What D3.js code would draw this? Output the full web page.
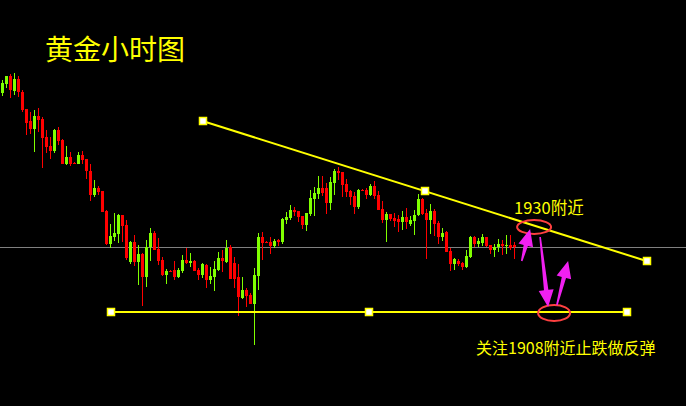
<!DOCTYPE html>
<html><head><meta charset="utf-8">
<script src="https://cdn.jsdelivr.net/npm/d3@7/dist/d3.min.js"></script>
<style>html,body{margin:0;padding:0;background:#000;overflow:hidden}</style>
</head><body>
<svg id="c" width="686" height="406"></svg>
<script>
// Hourly gold candles (USD)
const opens = [1962.75,1965,1967,1963.25,1966.25,1963,1958.75,1955.75,1953.75,1957,1956.25,1951.75,1949.5,1948.25,1953.5,1951,1945,1946.75,1945.25,1945,1947.25,1946.25,1943.25,1937.25,1939,1938.25,1933.25,1925,1926.75,1927.5,1932.25,1929.75,1920.5,1925.5,1920.5,1922.5,1916.75,1924.25,1927.75,1923.75,1921,1917.25,1918.25,1918.5,1916.75,1918.25,1921,1920.25,1920.75,1918.5,1917.25,1919.75,1916,1916.75,1918.5,1921.5,1920.5,1924.25,1920.25,1916.75,1911.5,1913.5,1912.25,1910,1917,1926.75,1925.5,1925.5,1924.5,1926,1925.5,1931,1931.5,1933.5,1933.25,1932,1929.75,1932.5,1936.25,1937.5,1939,1939,1935.25,1940.25,1943.25,1943,1940,1938.25,1937,1934.25,1938.5,1938.5,1937.25,1939.5,1937.25,1933.75,1931,1932.5,1931.5,1931.25,1930.5,1931.75,1930,1930.75,1932.25,1936.25,1932.75,1931,1933.25,1930.25,1926.75,1928,1923.25,1920,1920.75,1920.25,1919.25,1921.75,1926.75,1925,1925.25,1926.75,1924.75,1923.5,1924.25,1925,1924.75,1924.75,1924.75];
const highs = [1966,1967,1967.5,1967.75,1967,1963.5,1958.75,1958,1958.5,1959,1956.75,1953.5,1951.75,1953.75,1954.25,1951.25,1949.5,1948,1945.5,1948,1948.25,1946.25,1945,1941,1939.5,1938.25,1933.5,1930,1932.75,1932.5,1932.25,1931,1925.75,1927.25,1924.75,1922.75,1926,1929,1928.25,1926.5,1921.75,1918.75,1918.5,1920.75,1919,1922.25,1924,1922.75,1921,1919,1920.25,1920,1919.25,1920.75,1923,1923.5,1926,1924.75,1921.75,1920,1916.75,1914,1912.75,1919,1927.75,1928,1925.75,1926.75,1926.25,1926.25,1931.5,1933,1934.75,1934.25,1933.25,1932,1932.75,1938.5,1939.25,1942,1942,1940.25,1941.75,1943.75,1944.25,1943,1941.25,1938.5,1938,1938.75,1938.75,1939,1940,1940.75,1938.25,1935.75,1933,1932.5,1932.75,1932.25,1933.25,1934,1932,1933.5,1937.5,1936.5,1933.75,1935,1933.75,1930.75,1929,1928.25,1924,1921.5,1921.25,1920.5,1923.5,1927,1927,1926.5,1927.5,1926.75,1924.75,1925,1926.25,1926,1927.25,1927.25,1925.5];
const lows = [1962,1964,1961.5,1962.25,1961.75,1958,1952.25,1952.5,1948,1953,1944,1947.75,1946.25,1947.75,1949.75,1945,1944.75,1944.5,1945,1945,1945,1941.25,1935.75,1936.75,1937.25,1933,1924.75,1924,1925.75,1925.25,1925.5,1921,1920,1919.5,1914.75,1909.5,1914.25,1920.75,1923.5,1919.75,1917,1915,1918,1916,1916.5,1917.75,1920,1919.25,1918.25,1916,1916.5,1914,1915,1913.25,1918.25,1918,1920.25,1916.25,1914,1907,1911.25,1909.25,1910,1899.75,1913.5,1921,1925.25,1922.5,1924,1924.5,1925,1930,1931,1932,1930.5,1928.75,1928.25,1932,1932,1936.25,1937,1932.5,1933.5,1937.25,1941,1936.75,1936.75,1934.75,1932.5,1933.75,1938.25,1936.25,1937,1936.25,1933.5,1930.25,1925.5,1930.75,1929.25,1928,1928.5,1928.75,1929.5,1927.25,1932,1932.25,1921.25,1927.5,1927,1925,1925.75,1923,1918.25,1918.5,1919.5,1918.5,1919,1921.5,1924.25,1924.25,1924.5,1924.25,1922.5,1921.75,1923,1922.25,1922.5,1923.5,1921.25];
const closes = [1965.25,1967,1963.5,1966.25,1963,1958.5,1955.25,1953.75,1957,1956,1951.5,1949.25,1948.25,1953.5,1950.75,1945,1946.75,1945,1945.25,1947.25,1946,1943.25,1937.25,1939,1938,1933,1925,1927,1927.75,1932.25,1929.5,1921.5,1925.5,1920.5,1922.5,1916.75,1924.25,1927.75,1923.5,1920.75,1917.25,1918.25,1918.25,1916.75,1918.5,1921,1920.25,1920.75,1918.25,1917.25,1920,1916,1917,1918.75,1921.5,1920.75,1924,1916.25,1916.25,1911.75,1913.5,1912,1910,1917.25,1926.75,1925.25,1925.5,1924.5,1925.75,1925.5,1931.25,1931.75,1933.5,1933,1931.75,1929.75,1932.75,1936.5,1937.75,1939,1937.75,1935.25,1940.5,1943.25,1942.75,1939.75,1938,1936.75,1934.25,1938.5,1938.5,1937.25,1939.5,1937,1933.5,1931,1932.5,1931.25,1930.75,1930.5,1931.75,1930.5,1931,1932.25,1936.25,1932.5,1931,1933.25,1930,1926.75,1927.75,1923,1920,1921.25,1920,1919.25,1922,1926.75,1925,1925.75,1926.75,1924.5,1923.5,1924.25,1925,1924.5,1924.75,1924,1924.25];

const lastPrice = 1924.25;
const resistance = [{i: 50, p: 1955.75}, {i: 161, p: 1920.75}];
const support = [{i: 27, p: 1908}, {i: 156, p: 1908}];
const title = "黄金小时图";
const labelTop = "1930附近";
const labelBottom = "关注1908附近止跌做反弹";
const ellipses = [{i: 132.9, p: 1929.25, rx: 17, ry: 7}, {i: 137.9, p: 1907.75, rx: 16, ry: 8}];
const arrows = [
  {from: {i: 129.8, p: 1920.75}, to: {i: 131.9, p: 1928.75}},
  {from: {i: 134.4, p: 1926.75}, to: {i: 136.4, p: 1909.25}},
  {from: {i: 138.6, p: 1909.75}, to: {i: 141.4, p: 1920.75}}
];

const W = 686, H = 406;
const svg = d3.select("#c");
svg.append("rect").attr("width", W).attr("height", H).attr("fill", "#000");

const x = d3.scaleLinear().domain([0, 160]).range([2.5, 642.5]);
const y = d3.scaleLinear().domain([1986, 1884.5]).range([0, 406]);

// last price line
svg.append("line")
  .attr("x1", 0).attr("x2", W)
  .attr("y1", Math.round(y(lastPrice)) + 0.5).attr("y2", Math.round(y(lastPrice)) + 0.5)
  .attr("stroke", "#808080").attr("stroke-width", 1);

const data = opens.map((o, i) => ({i, o, h: highs[i], l: lows[i], c: closes[i]}));
const g = svg.append("g").attr("shape-rendering", "crispEdges");
data.forEach(d => {
  const col = d.c > d.o ? "#80ff00" : (d.c < d.o ? "#ff0000" : (d.i === 126 ? "#80ff00" : "#ff0000"));
  const xc = x(d.i);
  const yt = Math.round(y(d.h)), yb = Math.round(y(d.l));
  g.append("rect").attr("x", xc - 0.5).attr("width", 1)
    .attr("y", yt).attr("height", Math.max(1, yb - yt)).attr("fill", col);
  const bt = Math.round(y(Math.max(d.o, d.c))), bb = Math.round(y(Math.min(d.o, d.c)));
  g.append("rect").attr("x", xc - 1.5).attr("width", 3)
    .attr("y", bt).attr("height", Math.max(1, bb - bt)).attr("fill", col);
});

// trend lines
function drawLine(pts) {
  svg.append("line")
    .attr("x1", x(pts[0].i)).attr("y1", y(pts[0].p))
    .attr("x2", x(pts[1].i)).attr("y2", y(pts[1].p))
    .attr("stroke", "#ffff00").attr("stroke-width", 2);
  const mid = {i: (pts[0].i + pts[1].i) / 2, p: (pts[0].p + pts[1].p) / 2};
  [pts[0], mid, pts[1]].forEach(q => {
    svg.append("rect")
      .attr("x", Math.round(x(q.i)) - 3.5).attr("y", Math.round(y(q.p)) - 3.5)
      .attr("width", 7).attr("height", 7)
      .attr("fill", "#ffffff").attr("stroke", "#ffff00").attr("stroke-width", 1.5);
  });
}
drawLine(resistance);
drawLine(support);

// ellipses
ellipses.forEach(e => {
  svg.append("ellipse")
    .attr("cx", x(e.i)).attr("cy", y(e.p)).attr("rx", e.rx).attr("ry", e.ry)
    .attr("fill", "none").attr("stroke", "#ff4040").attr("stroke-width", 2);
});

// arrows
arrows.forEach(a => {
  const x0 = x(a.from.i), y0 = y(a.from.p), x1 = x(a.to.i), y1 = y(a.to.p);
  const dx = x1 - x0, dy = y1 - y0, len = Math.hypot(dx, dy);
  const ux = dx / len, uy = dy / len, nx = -uy, ny = ux;
  const headL = 17, headW = 7.5;
  const bx = x1 - ux * headL, by = y1 - uy * headL;
  const pts = [
    [x0 + nx * 0.8, y0 + ny * 0.8],
    [bx + nx * 2.2, by + ny * 2.2],
    [bx + nx * headW, by + ny * headW],
    [x1, y1],
    [bx - nx * headW, by - ny * headW],
    [bx - nx * 2.2, by - ny * 2.2],
    [x0 - nx * 0.8, y0 - ny * 0.8]
  ];
  svg.append("polygon").attr("points", pts.map(p => p.join(",")).join(" "))
    .attr("fill", "#f020f0");
});

// texts
const font = "'Noto Sans CJK SC','Noto Sans',sans-serif";
svg.append("text").attr("x", 45).attr("y", 60).text(title)
  .attr("fill", "#ffff00").attr("font-size", 28).attr("font-family", font);
svg.append("text").attr("x", 514).attr("y", 214).text(labelTop)
  .attr("fill", "#ffff00").attr("font-size", 16.5).attr("font-family", font);
svg.append("text").attr("x", 476).attr("y", 354).text(labelBottom)
  .attr("fill", "#ffff00").attr("font-size", 16).attr("font-family", font);
</script>
</body></html>
